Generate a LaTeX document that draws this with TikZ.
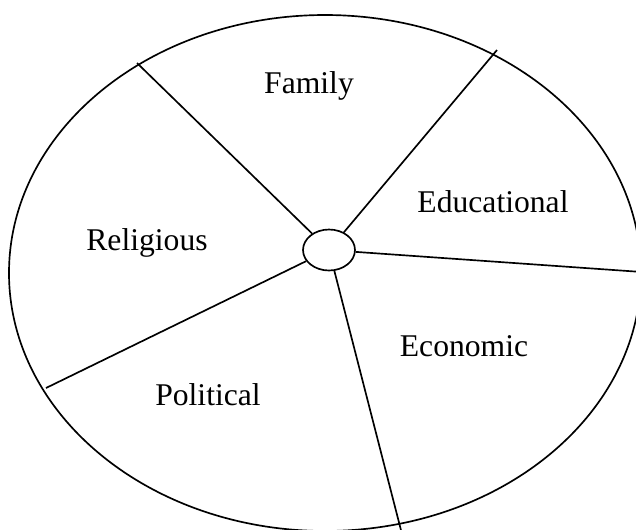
\documentclass[tikz,border=0pt]{standalone}
\usepackage{fontspec}
\setmainfont{Liberation Serif}
\usepackage{tikz}
\usetikzlibrary{positioning, shapes.geometric}

\begin{document}
\begin{tikzpicture}[x=0.02cm, y=-0.02cm, line width=0.95pt,
    sector/.style={font=\fontsize{18}{21}\selectfont, inner sep=0pt},
    hubnode/.style={draw, ellipse, inner sep=0pt, minimum width=1.04cm, minimum height=0.82cm}]
  \useasboundingbox (0,0) rectangle (636,529);
  \clip (0,0) rectangle (636,529);
  % outer rim
  \draw (325,273) ellipse [x radius=316, y radius=258];
  % hub in the middle
  \node[hubnode] (hub) at (329,250) {};
  % where the spokes meet the rim
  \coordinate (rimFR) at (137,63);
  \coordinate (rimFE) at (497,50);
  \coordinate (rimEE) at (642,272);
  \coordinate (rimEP) at (403,538);
  \coordinate (rimPR) at (46,388);
  \foreach \r in {rimFR, rimFE, rimEE, rimEP, rimPR}
    \draw (hub) -- (\r);
  % sector labels
  \node[sector] (family)  at (309,86)  {Family};
  \node[sector] (educ)    at (493,202) {Educational};
  \node[sector] (relig)   at (147,243) {Religious};
  \node[sector] (econ)    at (464,346) {Economic};
  \node[sector] (polit)   at (208,395) {Political};
\end{tikzpicture}
\end{document}
